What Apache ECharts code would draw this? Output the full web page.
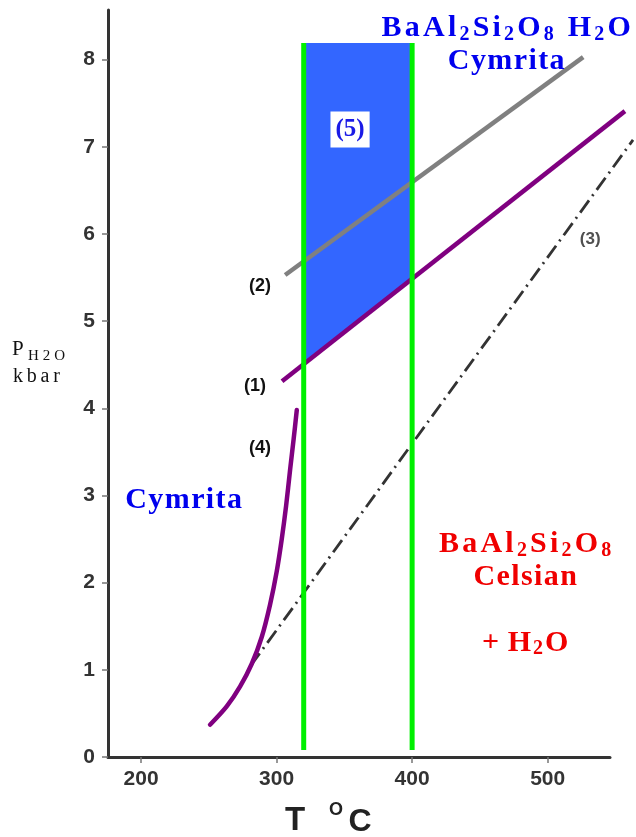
<!DOCTYPE html>
<html><head><meta charset="utf-8">
<script src="https://cdn.jsdelivr.net/npm/echarts@6/dist/echarts.min.js"></script>
<style>html,body{margin:0;padding:0;background:#fff}#c{width:636px;height:837px}</style>
</head><body><div id="c"></div>
<script>
// ---- data ----
const xTicks = [200, 300, 400, 500];
const yTicks = [0, 1, 2, 3, 4, 5, 6, 7, 8];
const line1 = [[304, 4.31], [557, 7.41]];            // (1) purple
const line2 = [[306.3, 5.53], [526.2, 8.03]];        // (2) grey
const line3 = [[281, 1.05], [563, 7.08]];            // (3) dash-dot
const curve4 = [[250.9, 0.37], [263.2, 0.58], [273.1, 0.81], [281.7, 1.07], [289.1, 1.38], [295.2, 1.75],
                [300.1, 2.13], [303.8, 2.50], [307.0, 2.88], [310.0, 3.30], [312.6, 3.65], [314.9, 3.98]];
const greenLeft = [[320, 0.08], [320, 8.19]];
const greenRight = [[400, 0.08], [400, 8.19]];
const region5 = [[320, 4.52], [400, 5.48], [400, 8.19], [320, 8.19]];
const numLabels = ['(1)', '(2)', '(3)', '(4)'];
const numLabelPos = [[284.1, 4.26], [287.8, 5.40], [531.4, 5.94], [287.8, 3.55]];
const label5Pos = [354.2, 7.2];
const topPhasePos = [469.4, 8.17];
const leftPhasePos = [231.4, 2.95];
const redPhasePos = [483.4, 2.25];
const redWaterPos = [483.4, 1.31];

const SERIF = '"Liberation Serif", "Times New Roman", serif';
const SANS = '"Liberation Sans", Arial, Helvetica, sans-serif';
const BLUE = '#0000ee';
const RED = '#f00000';

function sp(style, s) { return s.split('').map(c => '{' + style + '|' + c + '}').join(''); }
function richSet(color) {
  return {
    F: {fontFamily: SERIF, fontWeight: 'bold', fontSize: 30, lineHeight: 33, color: color, padding: [0, 1.6], align: 'center', verticalAlign: 'middle'},
    f: {fontFamily: SERIF, fontWeight: 'bold', fontSize: 20, lineHeight: 14, color: color, padding: [0, 1.6], align: 'center', verticalAlign: 'bottom'},
    N: {fontFamily: SERIF, fontWeight: 'bold', fontSize: 30, lineHeight: 33, color: color, padding: [0, 0.7], align: 'center', verticalAlign: 'middle'},
    W: {fontFamily: SERIF, fontWeight: 'bold', fontSize: 30, lineHeight: 33, color: color, padding: [0, 0.3], align: 'center', verticalAlign: 'middle'}
  };
}
const formulaTop = sp('F', 'BaAl') + sp('f', '2') + sp('F', 'Si') + sp('f', '2') + sp('F', 'O') + sp('f', '8') +
                   sp('F', ' H') + sp('f', '2') + sp('F', 'O') + '\n' + sp('N', 'Cymrita');
const formulaRed = sp('F', 'BaAl') + sp('f', '2') + sp('F', 'Si') + sp('f', '2') + sp('F', 'O') + sp('f', '8') +
                   '\n' + sp('N', 'Celsian');
const waterRed = sp('W', '+ H') + sp('f', '2') + sp('W', 'O');

const chart = echarts.init(document.getElementById('c'));

function txtItem(pos, text, rich) {
  return {value: pos, label: {show: true, position: 'inside', align: 'center', verticalAlign: 'middle', formatter: () => text, rich: rich}};
}
function polySeries(pts, z, style, smooth) {
  return {
    type: 'custom', z: z, silent: true, clip: false, data: pts,
    renderItem: (params, api) => {
      if (params.dataIndex !== 0) return null;
      return {type: 'polyline', shape: {points: pts.map(p => api.coord(p)), smooth: smooth || 0}, style: Object.assign({fill: null}, style)};
    }
  };
}

const option = {
  animation: false,
  backgroundColor: '#fff',
  grid: {left: 108, right: 26, top: 10, bottom: 80, containLabel: false},
  xAxis: {
    type: 'value', min: 175.6, max: 546,
    axisLine: {onZero: false, lineStyle: {color: '#333', width: 3}},
    axisTick: {show: true, length: 6, customValues: xTicks, lineStyle: {color: '#777', width: 1.5}},
    axisLabel: {customValues: xTicks, fontFamily: SANS, fontWeight: 'bold', fontSize: 21, color: '#333', margin: 12},
    splitLine: {show: false}
  },
  yAxis: {
    type: 'value', min: 0, max: 8.57,
    axisLine: {show: true, onZero: false, lineStyle: {color: '#333', width: 3}},
    axisTick: {show: true, length: 6, customValues: yTicks, lineStyle: {color: '#777', width: 1.5}},
    axisLabel: {customValues: yTicks, fontFamily: SANS, fontWeight: 'bold', fontSize: 21, color: '#333', margin: 13},
    splitLine: {show: false}
  },
  graphic: [
    {type: 'text', x: 12, y: 349, style: {text: 'P', fontFamily: SERIF, fontSize: 21, fill: '#111', verticalAlign: 'middle', align: 'left'}},
    {type: 'text', x: 26, y: 356, style: {text: sp('h', 'H2O'), fill: '#111', verticalAlign: 'middle', align: 'left',
      rich: {h: {fontFamily: SERIF, fontSize: 15, padding: [0, 2.0], fill: '#111', color: '#111'}}}},
    {type: 'text', x: 11, y: 377, style: {text: sp('k', 'kbar'), fill: '#111', verticalAlign: 'middle', align: 'left',
      rich: {k: {fontFamily: SERIF, fontSize: 20, padding: [0, 1.9], fill: '#111', color: '#111'}}}},
    {type: 'text', x: 295, y: 821, style: {text: 'T', fontFamily: SANS, fontWeight: 'bold', fontSize: 33, fill: '#222', align: 'center', verticalAlign: 'middle'}},
    {type: 'text', x: 336, y: 810, style: {text: 'O', fontFamily: SANS, fontWeight: 'bold', fontSize: 18, fill: '#222', align: 'center', verticalAlign: 'middle'}},
    {type: 'text', x: 360, y: 822, style: {text: 'C', fontFamily: SANS, fontWeight: 'bold', fontSize: 32, fill: '#222', align: 'center', verticalAlign: 'middle'}}
  ],
  series: [
    {
      type: 'custom', z: 1, silent: true, data: region5,
      renderItem: (params, api) => {
        if (params.dataIndex !== 0) return null;
        const pts = region5.map(p => api.coord(p));
        return {type: 'polygon', shape: {points: pts}, style: {fill: '#3366ff'}};
      }
    },
    polySeries(line2, 2, {stroke: '#808080', lineWidth: 4.5}),
    polySeries(line1, 3, {stroke: '#800080', lineWidth: 4.5}),
    polySeries(line3, 3, {stroke: '#333', lineWidth: 2.8, lineDash: [15, 5.5, 2, 5.5]}),
    {type: 'line', z: 4, data: curve4, symbol: 'none', smooth: 0.3, clip: false, silent: true,
     lineStyle: {color: '#800080', width: 4.5, cap: 'round', join: 'round'}},
    {type: 'line', z: 5, data: greenLeft, symbol: 'none', silent: true, lineStyle: {color: '#00f000', width: 5}},
    {type: 'line', z: 5, data: greenRight, symbol: 'none', silent: true, lineStyle: {color: '#00f000', width: 5}},
    {
      type: 'scatter', z: 10, symbolSize: 0, silent: true, itemStyle: {opacity: 1},
      data: numLabels.map((t, i) => ({value: numLabelPos[i], label: {
        show: true, position: 'inside', formatter: () => t, fontFamily: SANS, fontWeight: 'bold',
        fontSize: i === 2 ? 17 : 18, color: i === 2 ? '#505050' : '#111', opacity: 1}}))
        .concat([{value: label5Pos, label: {show: true, position: 'inside', formatter: () => '(5)', fontFamily: SERIF,
          fontWeight: 'bold', fontSize: 25, lineHeight: 28, color: '#1a1ae6', backgroundColor: '#fff', padding: [4, 5, 4, 5], opacity: 1}}])
        .concat([
          txtItem(topPhasePos, formulaTop, richSet(BLUE)),
          txtItem(leftPhasePos, sp('N', 'Cymrita'), richSet(BLUE)),
          txtItem(redPhasePos, formulaRed, richSet(RED)),
          txtItem(redWaterPos, waterRed, richSet(RED))
        ])
    }
  ]
};
chart.setOption(option);
</script></body></html>
